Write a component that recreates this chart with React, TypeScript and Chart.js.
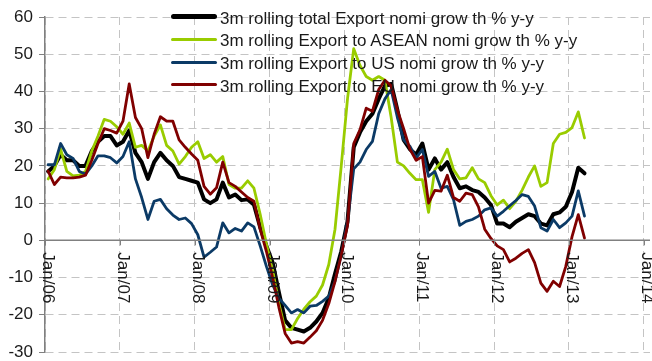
import React, { useEffect, useRef } from "react";
import { Chart, registerables } from "chart.js";

Chart.register(...registerables);

const tickLabels = ["Jan/06", "Jan/07", "Jan/08", "Jan/09", "Jan/10", "Jan/11", "Jan/12", "Jan/13", "Jan/14"];
const yTicks = [60, 50, 40, 30, 20, 10, 0, -10, -20, -30];

const seriesNames = [
  "3m rolling total Export nomi grow th % y-y",
  "3m rolling Export to ASEAN nomi grow th % y-y",
  "3m rolling Export to US nomi grow th % y-y",
  "3m rolling Export to EU nomi grow th % y-y",
];
const seriesColors = ["#000000", "#99cc00", "#0b3a66", "#800000"];

// monthly values, Jan/06 .. Mar/13
const totalExport = [
  18.5, 20, 23, 21.5, 21.5, 20, 20, 24, 26.5, 28,
  28, 25.5, 26.5, 29.5, 23.5, 21, 16.5, 21, 23.5, 21.5,
  20, 17, 16.5, 16, 15.5, 11, 10, 11, 15.5, 11.5,
  12.3, 10.8, 11, 9.6, 3.5, -1.5, -6, -14, -21.5, -23.5,
  -24, -24.5, -23.5, -21.8, -19.5, -15.5, -9, -3, 5, 25,
  29, 32, 34, 38, 41.5, 42, 35, 27, 24.5, 23,
  26, 19, 22, 19, 21, 17, 14, 14.5, 13.5, 13,
  11.5, 9.5, 4.5, 4.5, 3.5, 5, 6, 7, 6.5, 4.5,
  4, 7, 7.5, 9, 13, 19.5, 18,
];
const aseanExport = [
  16.5, 19, 24.5, 18.5, 17.3, 17.5, 18.5, 24, 28, 32.5,
  32, 30.5, 28.5, 31.5, 25, 25.5, 24, 28, 31, 25.5,
  24, 20.5, 22.5, 25, 26.5, 22, 23, 21, 22.5, 15,
  14, 14, 16, 14, 7, -1, -8, -17, -24, -24,
  -21, -18.5, -16.5, -15, -12, -6.5, 3, 20, 38, 51.5,
  47, 44, 43, 44, 43, 33, 21, 20, 18, 16.3,
  16.3, 7.5, 19, 21, 24.5, 19, 16.5, 16.8, 19.5, 16.5,
  15.5, 12, 9.5, 10.8, 8.5, 10.5, 13.5, 17, 20, 14.5,
  15.5, 26, 28.5, 29, 30.3, 34.5, 27.5,
];
const usExport = [
  20.3, 20.3, 26, 23, 22, 18.5, 17.8, 20, 22.7, 22.7,
  22.2, 20.8, 22.5, 26.5, 16.5, 11.5, 5.6, 10.5, 11, 8.5,
  6.8, 5.6, 6, 4.5, 1.5, -4.5, -3.2, -1.8, 4.7, 2,
  3.2, 2.5, 4.7, 3.6, -1.5, -7, -12, -15.5, -17.5, -19.5,
  -18.6, -19.5, -17.7, -17.5, -16.4, -15, -11, -4, 5, 19.2,
  21, 24.4, 26.6, 34, 38, 40.5, 33, 27, 25.3, 22.1,
  24.4, 17.2, 18.5, 14, 14.5, 10.9, 4, 5.1, 5.6, 6.5,
  8.2, 8.7, 6.5, 7.8, 9.3, 10.7, 12.3, 11.8, 9.2, 3.4,
  2.5, 5.6, 3.4, 4.7, 6.5, 13.3, 6.5,
];
const euExport = [
  18.6, 15, 17, 16.8, 16.8, 17, 17.5, 21.5, 26, 30,
  29.5, 28.8, 32, 42, 33, 30, 22.2, 28.5, 33.2, 32,
  32, 27, 25, 23.2, 21.5, 14.5, 12.4, 14.1, 21, 15.5,
  14.5, 13, 11.5, 10.5, 3, -3, -10, -18, -25, -27.6,
  -27.2, -27.6, -26, -24.3, -21.5, -17, -11, -4, 4, 26,
  29.7, 35.5, 34.7, 40.5, 43, 41.5, 35, 30, 24.5, 21.5,
  22.5, 10, 13.4, 13.2, 17.5, 11.5, 10.5, 12.7, 12.3, 9,
  3, 0.5, -1.5, -2.5, -5.8, -4.8, -3.5, -2.5, -6, -11.5,
  -13.7, -11, -12.4, -7, 1, 6.9, 0.6,
];

const seriesValues = [totalExport, aseanExport, usExport, euExport];
const lineWidths = [4, 2.8, 2.8, 2.8];
const legendWidths = [5, 3, 3, 3];
const FONT = '"Liberation Sans", Arial, sans-serif';

const xLabelPlugin = {
  id: "xLabelPlugin",
  afterDraw(chart: any) {
    const { ctx, scales } = chart;
    const x = scales.x;
    const y = scales.y;
    const y0 = y.getPixelForValue(0);
    ctx.save();
    ctx.strokeStyle = "#808080";
    ctx.lineWidth = 1.5;
    ctx.beginPath();
    ctx.moveTo(chart.chartArea.left, y0);
    ctx.lineTo(chart.chartArea.right, y0);
    ctx.stroke();
    ctx.lineWidth = 1;
    ctx.font = "17px " + FONT;
    ctx.fillStyle = "#1a1a1a";
    tickLabels.forEach((lab, k) => {
      const px = Math.round(x.getPixelForValue(k * 12)) + 0.5;
      ctx.beginPath();
      ctx.moveTo(px, y0);
      ctx.lineTo(px, y0 + 5);
      ctx.stroke();
      ctx.save();
      ctx.translate(px, y0 + 12);
      ctx.rotate(Math.PI / 2);
      ctx.textAlign = "left";
      ctx.textBaseline = "middle";
      ctx.fillText(lab, 0, -2);
      ctx.restore();
    });
    ctx.restore();
  },
};

export default function App() {
  const canvasRef = useRef<HTMLCanvasElement | null>(null);

  useEffect(() => {
    const canvas = canvasRef.current;
    if (!canvas) return;
    const datasets = seriesNames.map((name, s) => ({
      label: name,
      data: seriesValues[s].map((v, i) => ({ x: i + 0.5, y: v })),
      borderColor: seriesColors[s],
      backgroundColor: seriesColors[s],
      borderWidth: lineWidths[s],
      pointRadius: 0,
      tension: 0,
      fill: false,
      borderJoinStyle: "round" as const,
      borderCapStyle: "round" as const,
      order: 3 - s,
    }));
    const chart = new Chart(canvas, {
      type: "line",
      data: { datasets },
      plugins: [xLabelPlugin],
      options: {
        animation: false,
        responsive: false,
        devicePixelRatio: 1,
        layout: { padding: { left: 0, top: 17, right: 2, bottom: 9 } },
        plugins: { legend: { display: false }, tooltip: { enabled: false } },
        scales: {
          x: {
            type: "linear",
            min: 0,
            max: 97,
            afterBuildTicks: (scale: any) => {
              scale.ticks = tickLabels.map((_, k) => ({ value: k * 12 }));
            },
            afterFit: (scale: any) => {
              scale.height = 0;
              scale.paddingLeft = 0;
              scale.paddingRight = 0;
              scale.paddingTop = 0;
              scale.paddingBottom = 0;
            },
            ticks: { display: false },
            border: { display: false, dash: [8, 5] },
            grid: { color: "#c4c4c4", lineWidth: 1, drawTicks: false },
          },
          y: {
            type: "linear",
            min: -30,
            max: 60,
            afterBuildTicks: (scale: any) => {
              scale.ticks = yTicks.map((v) => ({ value: v }));
            },
            afterFit: (scale: any) => {
              scale.width = 45;
              scale.paddingTop = 0;
              scale.paddingBottom = 0;
            },
            ticks: {
              font: { family: FONT, size: 17 },
              color: "#1a1a1a",
              padding: 6,
              callback: (v: any) => String(v),
            },
            border: { display: true, color: "#808080", width: 1.5, dash: [8, 5] },
            grid: {
              color: (c: any) => (c.tick && c.tick.value === 0 ? "rgba(0,0,0,0)" : "#c4c4c4"),
              lineWidth: 1,
              drawTicks: true,
              tickLength: 6,
              tickColor: "#808080",
              tickBorderDash: [],
            },
          },
        },
      },
    } as any);
    return () => chart.destroy();
  }, []);

  const rowTop = 6.6;
  const rowGap = 22.7;
  const lineTop = 16.7;

  return (
    <div style={{ position: "absolute", left: 0, top: 0, width: 652, height: 361, background: "#ffffff" }}>
      <canvas ref={canvasRef} width={652} height={361} style={{ display: "block", width: 652, height: 361 }} />
      {seriesNames.map((name, s) => (
        <React.Fragment key={name}>
          <div
            style={{
              position: "absolute",
              left: 171,
              width: 46,
              top: lineTop + rowGap * s - legendWidths[s] / 2,
              height: legendWidths[s],
              background: seriesColors[s],
              borderRadius: legendWidths[s] / 2,
            }}
          />
          <div
            style={{
              position: "absolute",
              left: 220,
              top: rowTop + rowGap * s,
              fontFamily: FONT,
              fontSize: 17,
              lineHeight: "23px",
              color: "#1a1a1a",
              whiteSpace: "nowrap",
            }}
          >
            {name}
          </div>
        </React.Fragment>
      ))}
    </div>
  );
}
